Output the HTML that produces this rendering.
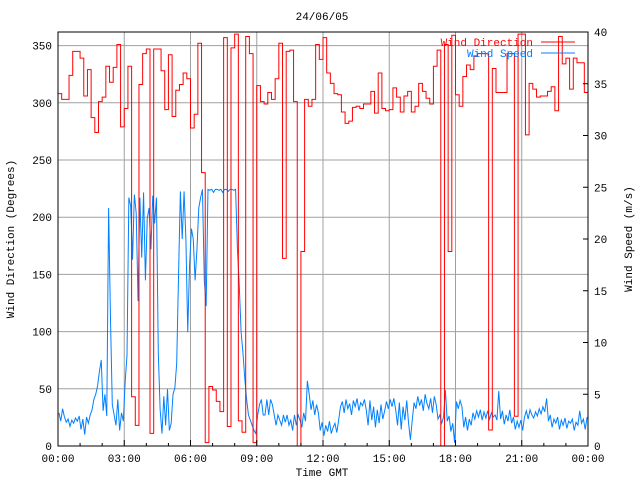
<!DOCTYPE html>
<html><head><meta charset="utf-8"><style>
html,body{margin:0;padding:0;background:#fff;}
svg{display:block;font-family:"Liberation Mono",monospace;font-size:11px;}
</style></head><body>
<svg id="chart" width="640" height="480" viewBox="0 0 640 480" xmlns="http://www.w3.org/2000/svg">
<rect x="0" y="0" width="640" height="480" fill="#fff"/>
<g id="grid"></g>
<g id="series"></g>
<rect x="58" y="32" width="530" height="414" fill="none" stroke="#000" stroke-width="1"/>
<g id="ticks"></g>
<text x="322" y="20" text-anchor="middle">24/06/05</text>
<text x="322" y="476" text-anchor="middle">Time GMT</text>
<text x="0" y="0" text-anchor="middle" transform="translate(14,239) rotate(-90)">Wind Direction (Degrees)</text>
<text x="0" y="0" text-anchor="middle" transform="translate(632,239) rotate(-90)">Wind Speed (m/s)</text>
<g>
<text x="533" y="46" text-anchor="end" fill="#ff0000">Wind Direction</text>
<line x1="541" y1="42" x2="575" y2="42" stroke="#ff0000"/>
<text x="533" y="57" text-anchor="end" fill="#0080ff">Wind Speed</text>
<line x1="541" y1="53" x2="575" y2="53" stroke="#0080ff"/>
</g>
</svg>
<script>
const dirStepMinutes = 10;
const speedStepMinutes = 5;
const direction = [
308,303,303,324,345,345,339,306,329,287,
274,301,305,332,318,331,351,279,295,332,
43,18,316,343,347,11,347,347,328,294,
342,288,311,316,326,321,278,290,352,239,
3,52,49,39,30,357,17,348,360,22,
12,358,343,3,315,301,299,309,303,321,
352,164,345,346,301,0,170,303,297,303,
351,338,357,326,317,308,307,292,282,284,
296,297,295,299,299,310,291,326,295,293,
294,313,305,292,306,310,292,297,317,310,
304,299,332,346,0,351,170,359,307,297,
323,333,329,341,343,343,343,14,330,309,
309,309,343,343,26,360,360,272,317,312,
305,306,306,310,314,293,358,334,339,312,
339,335,335,309];
const speed = [
3.2,2.4,3.6,2.8,2.3,2.6,1.9,2.5,2.2,2.7,2.4,2.9,1.6,2.6,1.1,2.8,2.2,3.0,
3.5,4.5,5.0,5.8,7.2,8.3,3.4,5.0,2.9,23.0,12.5,4.0,
3.0,2.0,4.5,1.5,3.2,2.4,6.2,8.8,
24.0,23.2,18.0,24.3,22.5,14.0,24.0,18.2,24.5,16.0,22.0,23.0,19.0,24.2,21.5,24.0,
9.0,3.5,1.2,4.8,2.0,5.5,1.5,2.2,
5.0,5.6,8.0,16.5,
24.6,20.0,24.6,20.0,11.0,17.5,21.0,20.0,16.0,19.0,23.0,24.0,24.8,16.0,13.5,
24.8,24.7,24.8,24.5,24.8,24.8,24.7,24.8,24.5,24.8,24.8,24.6,24.8,24.8,24.7,24.8,
19.0,15.5,11.0,9.0,6.5,4.5,3.0,2.5,2.0,1.5,1.2,
3.0,4.0,4.5,3.0,3.0,4.5,3.0,4.5,4.0,3.0,2.0,3.0,2.5,2.0,3.0,2.3,3.0,2.0,2.5,1.5,3.0,2.0,3.0,2.5,
1.8,3.2,2.4,6.3,5.0,3.5,4.4,3.0,4.0,3.2,
1.5,2.3,1.0,2.0,1.4,2.4,1.2,1.8,2.2,1.3,2.5,
3.8,4.3,3.2,4.5,3.6,4.1,3.0,4.4,3.8,4.6,3.4,4.2,3.9,4.5,3.5,
2.0,4.4,2.5,3.8,1.8,3.5,2.2,4.0,2.6,3.4,
4.3,3.6,4.5,3.8,4.6,3.5,2.0,4.2,1.6,3.8,2.5,4.4,2.2,0.6,2.5,
4.2,3.6,4.8,3.9,4.5,3.4,5.0,4.1,3.6,4.6,3.2,4.8,4.0,
2.6,3.0,2.2,2.8,5.4,2.4,2.9,1.4,2.2,0.3,4.3,3.6,4.4,3.8,1.8,2.8,1.5,2.6,2.0,
3.2,2.6,3.4,2.8,3.5,2.5,3.3,2.7,3.4,2.6,3.2,2.8,3.0,2.5,5.3,
2.6,3.4,2.1,3.0,2.4,3.5,2.2,2.8,1.6,2.4,1.8,2.5,1.5,
2.8,3.4,2.6,3.5,3.0,2.7,3.3,2.9,3.6,3.1,3.8,3.3,4.6,
2.4,3.0,1.8,2.6,2.2,2.8,1.6,2.5,2.0,2.7,1.7,2.4,2.2,2.6,1.5,2.3,2.0,3.4,2.2,2.6,1.6,2.8];
const leftTicks = [0,50,100,150,200,250,300,350];
const rightTicks = [0,5,10,15,20,25,30,35,40];
const xTickLabels = ["00:00","03:00","06:00","09:00","12:00","15:00","18:00","21:00","00:00"];

const NS = "http://www.w3.org/2000/svg";
const X0 = 58, X1 = 588, Y0 = 446, Y1 = 32;
function xScale(min){ return X0 + min/1440*(X1-X0); }
function yDir(d){ return Y0 - d*(57.2/50); }
function ySpd(v){ return Y0 - v*(Y0-Y1)/40; }
function mk(tag, attrs, parent){
  const e = document.createElementNS(NS, tag);
  for (const k in attrs) e.setAttribute(k, attrs[k]);
  parent.appendChild(e); return e;
}
const grid = document.getElementById('grid');
const ticks = document.getElementById('ticks');
const series = document.getElementById('series');

leftTicks.forEach(v => {
  const y = yDir(v);
  if (v > 0) {
    const g = mk('line', {x1:X0, x2:X1, y1:y, y2:y, stroke:'#a0a0a0', 'stroke-width':1}, grid);
    
    
  }
  const t = mk('text', {x:X0-6, y:y+4, 'text-anchor':'end'}, ticks);
  t.textContent = v;
  
  
});
rightTicks.forEach(v => {
  const y = ySpd(v);
  const l = mk('line', {x1:X1-5, x2:X1, y1:y, y2:y, stroke:'#000'}, ticks);
  
  
  const t = mk('text', {x:X1+6, y:y+4, 'text-anchor':'start'}, ticks);
  t.textContent = v;
  
  
});
xTickLabels.forEach((lab, i) => {
  const x = xScale(i*180);
  if (i > 0 && i < xTickLabels.length-1) {
    const g = mk('line', {x1:x, x2:x, y1:Y1, y2:Y0, stroke:'#a0a0a0'}, grid);
    
    
  }
  const t = mk('text', {x:x, y:462, 'text-anchor':'middle'}, ticks);
  t.textContent = lab;
  
  
});
for (let h = 0; h <= 24; h++) {
  const x = xScale(h*60);
  const len = h % 3 === 0 ? 6 : 3;
  const l = mk('line', {x1:x, x2:x, y1:Y0, y2:Y0-len, stroke:'#000'}, ticks);
  
  
}
function stepPath(arr, stepMin, yf){
  let d = '';
  arr.forEach((v, i) => {
    const xa = xScale(i*stepMin), xb = xScale((i+1)*stepMin), y = yf(v);
    d += (i === 0 ? 'M' : 'L') + xa.toFixed(2) + ',' + y.toFixed(2) + 'L' + xb.toFixed(2) + ',' + y.toFixed(2);
  });
  return d;
}
function linePath(arr, stepMin, yf){
  let d = '';
  arr.forEach((v, i) => {
    const x = xScale((i+0.5)*stepMin), y = yf(v);
    d += (i === 0 ? 'M' : 'L') + x.toFixed(2) + ',' + y.toFixed(2);
  });
  return d;
}
const sp = mk('path', {d: linePath(speed, speedStepMinutes, ySpd), fill:'none', stroke:'#0080ff', 'stroke-width':1}, series);


const dp = mk('path', {d: stepPath(direction, dirStepMinutes, yDir), fill:'none', stroke:'#ff0000', 'stroke-width':1}, series);


</script>
</body></html>
